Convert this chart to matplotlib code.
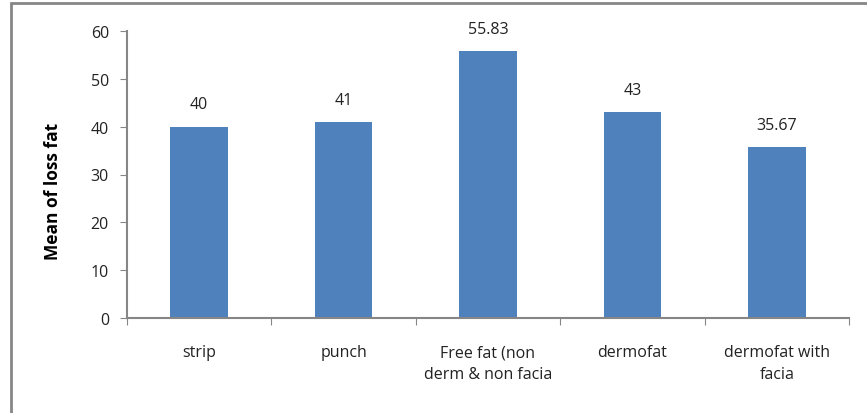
import matplotlib.pyplot as plt
from matplotlib.patches import Rectangle

categories = ["strip", "punch", "Free fat (non\nderm & non facia", "dermofat", "dermofat with\nfacia"]
values = [40, 41, 55.83, 43, 35.67]
value_labels = ["40", "41", "55.83", "43", "35.67"]

plt.rcParams['font.family'] = ['Open Sans', 'DejaVu Sans']

fig = plt.figure(figsize=(8.67, 4.14), dpi=100)
ax = fig.add_axes([127/867, 1-319/414, (849-127)/867, (319-32)/414])

x = list(range(len(categories)))
ax.bar(x, values, width=0.4, color='#4f81bd')
for xi, v, lab in zip(x, values, value_labels):
    ax.text(xi, v + 3, lab, ha='center', va='bottom', fontsize=11.5, color='#222222')

ax.set_xlim(-0.5, len(categories) - 0.5)
ax.set_ylim(0, 60)
ax.set_yticks(range(0, 61, 10))
ax.set_xticks([i - 0.5 for i in range(len(categories) + 1)])
ax.set_xticklabels([])
ax.set_xticks(x, minor=True)
ax.set_xticklabels(categories, minor=True, fontsize=11.5, color='#222222', linespacing=1.45)
ax.tick_params(axis='x', which='minor', length=0, pad=19)
ax.tick_params(axis='x', which='major', length=5, color='#868686')
ax.tick_params(axis='y', length=5, color='#868686', labelsize=11.5, labelcolor='#222222', pad=8)

for s in ['top', 'right']:
    ax.spines[s].set_visible(False)
for s in ['left', 'bottom']:
    ax.spines[s].set_color('#868686')
    ax.spines[s].set_linewidth(1.5)

ax.set_ylabel("Mean of loss fat", fontsize=12.5, fontweight='bold', va='center')
ax.yaxis.set_label_coords(-0.102, 0.445)

# outer chart border
fig.patches.append(Rectangle((11/867, -0.1), 1.1, 1 - 4/414 + 0.1, transform=fig.transFigure,
                             fill=False, edgecolor='#868686', linewidth=2))

plt.savefig("out.png", dpi=100)
